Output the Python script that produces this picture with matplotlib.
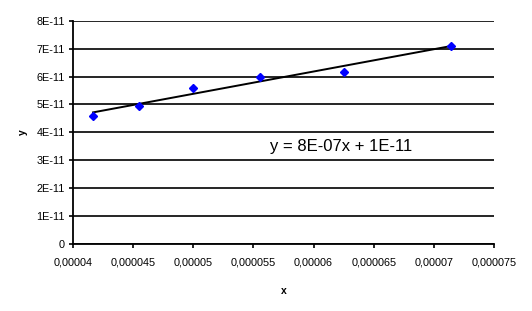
import numpy as np
import matplotlib
matplotlib.use("Agg")
import matplotlib.pyplot as plt
from matplotlib.ticker import FuncFormatter, MultipleLocator

x_vals = [4.1667e-5, 4.545e-5, 5.0e-5, 5.556e-5, 6.25e-5, 7.143e-5]
y_vals = [4.6e-11, 4.93e-11, 5.6e-11, 6.0e-11, 6.18e-11, 7.1e-11]
equation = "y = 8E-07x + 1E-11"

plt.rcParams['font.family'] = ['Liberation Sans', 'DejaVu Sans']

fig = plt.figure(figsize=(5.32, 3.11), dpi=100)
ax = fig.add_axes([73/532, 1-244/311, (494-73)/532, (244-20.7)/311])

slope, intercept = np.polyfit(x_vals, y_vals, 1)
xl = np.array([min(x_vals), max(x_vals)])
ax.plot(xl, slope*xl + intercept, color='black', lw=1.4, zorder=3)
ax.plot(x_vals, y_vals, linestyle='none', marker='D', markersize=4.3,
        color='#0000ff', zorder=4)

ax.set_xlim(0.00004, 0.000075)
ax.set_ylim(0, 8e-11)
ax.xaxis.set_major_locator(MultipleLocator(0.000005))
ax.yaxis.set_major_locator(MultipleLocator(1e-11))

def xfmt(v, pos):
    s = f"{v:.6f}".rstrip('0')
    return s.replace('.', ',')

def yfmt(v, pos):
    n = int(round(v*1e11))
    return "0" if n == 0 else f"{n}E-11"

ax.xaxis.set_major_formatter(FuncFormatter(xfmt))
ax.yaxis.set_major_formatter(FuncFormatter(yfmt))
ax.yaxis.get_offset_text().set_visible(False)
ax.xaxis.get_offset_text().set_visible(False)
ax.grid(axis='y', color='black', lw=1.2)
ax.set_axisbelow(True)
for s in ['top', 'right']:
    ax.spines[s].set_visible(False)
for s in ['left', 'bottom']:
    ax.spines[s].set_linewidth(1.3)
ax.tick_params(axis='both', direction='out', length=3, width=1.2, labelsize=7.8)
ax.tick_params(axis='x', pad=7)
ax.tick_params(axis='y', pad=3)
ax.set_xlabel('x', fontsize=7.5, fontweight='bold', labelpad=13)
ax.set_ylabel('y', fontsize=7.5, fontweight='bold', labelpad=6)

ax.text(0.00005638, 3.51e-11, equation, fontsize=12, ha='left', va='center')

fig.savefig('out.png', dpi=100)
